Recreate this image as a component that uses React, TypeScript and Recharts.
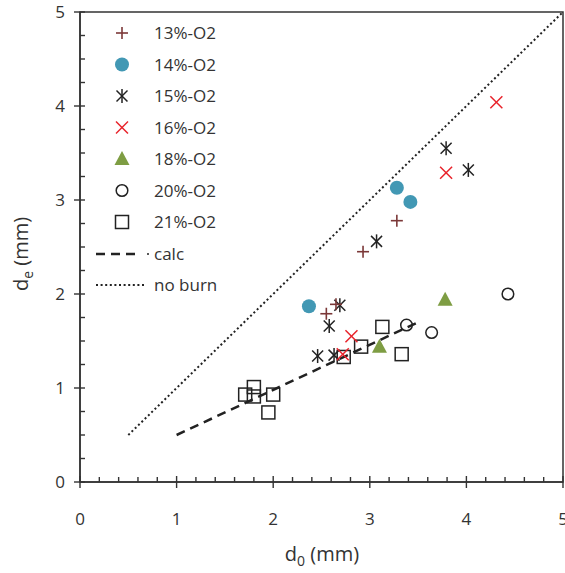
import React from 'react';
import { ScatterChart, Scatter, XAxis, YAxis, ReferenceArea } from 'recharts';

// d0 (mm), de (mm)
const o2_13 = [
  { x: 3.28, y: 2.78 },
  { x: 2.93, y: 2.45 },
  { x: 2.55, y: 1.79 },
  { x: 2.65, y: 1.89 },
];
const o2_14 = [
  { x: 3.28, y: 3.13 },
  { x: 3.42, y: 2.98 },
  { x: 2.37, y: 1.87 },
];
const o2_15 = [
  { x: 3.79, y: 3.55 },
  { x: 4.02, y: 3.32 },
  { x: 3.07, y: 2.56 },
  { x: 2.69, y: 1.88 },
  { x: 2.58, y: 1.66 },
  { x: 2.46, y: 1.34 },
  { x: 2.63, y: 1.35 },
];
const o2_16 = [
  { x: 4.31, y: 4.04 },
  { x: 3.79, y: 3.29 },
  { x: 2.81, y: 1.55 },
  { x: 2.72, y: 1.36 },
];
const o2_18 = [
  { x: 3.78, y: 1.94 },
  { x: 3.1, y: 1.44 },
];
const o2_20 = [
  { x: 3.38, y: 1.67 },
  { x: 3.64, y: 1.59 },
  { x: 4.43, y: 2.0 },
];
const o2_21 = [
  { x: 3.13, y: 1.65 },
  { x: 2.91, y: 1.44 },
  { x: 2.73, y: 1.33 },
  { x: 3.33, y: 1.36 },
  { x: 1.71, y: 0.93 },
  { x: 1.8, y: 1.01 },
  { x: 1.8, y: 0.91 },
  { x: 2.0, y: 0.93 },
  { x: 1.95, y: 0.74 },
];
const calc = [
  { x: 1.0, y: 0.5 },
  { x: 3.5, y: 1.7 },
];
const noBurn = [
  { x: 0.5, y: 0.5 },
  { x: 5, y: 5 },
];

const xTicks = [0, 0.2, 0.4, 0.6, 0.8, 1, 1.2, 1.4, 1.6, 1.8, 2, 2.2, 2.4, 2.6, 2.8, 3, 3.2, 3.4, 3.6, 3.8, 4, 4.2, 4.4, 4.6, 4.8, 5];
const yTicks = [0, 0.25, 0.5, 0.75, 1, 1.25, 1.5, 1.75, 2, 2.25, 2.5, 2.75, 3, 3.25, 3.5, 3.75, 4, 4.25, 4.5, 4.75, 5];

const FONT = '"Open Sans", sans-serif';
const AXIS = '#333';
const DOTTED = '2 2.6';

// markers
const Plus = ({ cx, cy }: any) => (
  <g stroke="#7b3838" strokeWidth={1.6}>
    <line x1={cx - 6} x2={cx + 6} y1={cy} y2={cy} />
    <line x1={cx} x2={cx} y1={cy - 6} y2={cy + 6} />
  </g>
);
const Dot = ({ cx, cy }: any) => <circle cx={cx} cy={cy} r={7} fill="#4298b4" />;
const Star = ({ cx, cy }: any) => (
  <g stroke="#222" strokeWidth={1.5}>
    <line x1={cx - 5.5} x2={cx + 5.5} y1={cy - 5.5} y2={cy + 5.5} />
    <line x1={cx - 5.5} x2={cx + 5.5} y1={cy + 5.5} y2={cy - 5.5} />
    <line x1={cx} x2={cx} y1={cy - 7} y2={cy + 7} />
  </g>
);
const Cross = ({ cx, cy }: any) => (
  <g stroke="#e8232b" strokeWidth={1.5}>
    <line x1={cx - 6} x2={cx + 6} y1={cy - 6} y2={cy + 6} />
    <line x1={cx - 6} x2={cx + 6} y1={cy + 6} y2={cy - 6} />
  </g>
);
const Tri = ({ cx, cy }: any) => (
  <polygon points={`${cx},${cy - 8} ${cx + 7.5},${cy + 6} ${cx - 7.5},${cy + 6}`} fill="#7e9d43" />
);
const Ring = ({ cx, cy }: any) => <circle cx={cx} cy={cy} r={5.8} fill="none" stroke="#222" strokeWidth={1.5} />;
const Square = ({ cx, cy }: any) => (
  <rect x={cx - 6.5} y={cy - 6.5} width={13} height={13} fill="none" stroke="#222" strokeWidth={1.5} />
);

const isMajor = (v: number) => Math.abs(v - Math.round(v)) < 1e-6;

const XTick = ({ x, y, payload }: any) => {
  const major = isMajor(payload.value);
  return (
    <g>
      <line x1={x} x2={x} y1={y - (major ? 6 : 5)} y2={y + (major ? 6 : 0)} stroke={AXIS} strokeWidth={1.4} />
      {major && (
        <text x={x} y={y + 43} textAnchor="middle" fontFamily={FONT} fontSize={17} fill="#333">
          {Math.round(payload.value)}
        </text>
      )}
    </g>
  );
};

const YTick = ({ x, y, payload }: any) => {
  const major = isMajor(payload.value);
  return (
    <g>
      <line x1={x - (major ? 6 : 0)} x2={x + 5} y1={y} y2={y} stroke={AXIS} strokeWidth={1.4} />
      {major && (
        <text x={x - 15} y={y + 6} textAnchor="end" fontFamily={FONT} fontSize={17} fill="#333">
          {Math.round(payload.value)}
        </text>
      )}
    </g>
  );
};

const legendRows = [
  { label: '13%-O2', Mark: Plus },
  { label: '14%-O2', Mark: Dot },
  { label: '15%-O2', Mark: Star },
  { label: '16%-O2', Mark: Cross },
  { label: '18%-O2', Mark: Tri },
  { label: '20%-O2', Mark: Ring },
  { label: '21%-O2', Mark: Square },
];

const Overlay = () => (
  <svg
    width={565}
    height={573}
    style={{ position: 'absolute', left: 0, top: 0, pointerEvents: 'none' }}
    fontFamily={FONT}
  >
    {legendRows.map(({ label, Mark }, i) => {
      const cy = 33 + i * 31.5;
      return (
        <g key={label}>
          <Mark cx={122} cy={cy} />
          <text x={154} y={cy + 6} fontSize={17} fill="#333">{label}</text>
        </g>
      );
    })}
    <line x1={96} x2={140} y1={254} y2={254} stroke="#222" strokeWidth={2.5} strokeDasharray="9 6" />
    <circle cx={148} cy={254} r={1} fill="#222" />
    <text x={154} y={260} fontSize={17} fill="#333">calc</text>
    <line x1={96} x2={146} y1={285} y2={285} stroke="#222" strokeWidth={2} strokeDasharray={DOTTED} />
    <text x={154} y={291} fontSize={17} fill="#333">no burn</text>

    <text x={322} y={561} textAnchor="middle" fontSize={20} fill="#333">
      d<tspan dy={5} fontSize={14}>0</tspan>
      <tspan dy={-5}> (mm)</tspan>
    </text>
    <text x={28} y={254} textAnchor="middle" fontSize={20} fill="#333" transform="rotate(-90 28 254)">
      d<tspan dy={5} fontSize={14}>e</tspan>
      <tspan dy={-5}> (mm)</tspan>
    </text>
  </svg>
);

export default function App() {
  return (
    <div style={{ position: 'absolute', left: 0, top: 0, width: 565, height: 573, background: '#fff' }}>
      <ScatterChart width={565} height={573} margin={{ top: 12, right: 2, bottom: 0, left: 0 }}>
        <XAxis
          type="number"
          dataKey="x"
          domain={[0, 5]}
          ticks={xTicks}
          interval={0}
          tickSize={0}
          tickMargin={0}
          tickLine={false}
          tick={<XTick />}
          height={91}
          axisLine={{ stroke: AXIS, strokeWidth: 1.5 }}
          allowDataOverflow
        />
        <YAxis
          type="number"
          dataKey="y"
          domain={[0, 5]}
          ticks={yTicks}
          interval={0}
          tickSize={0}
          tickMargin={0}
          tickLine={false}
          tick={<YTick />}
          width={80}
          axisLine={{ stroke: AXIS, strokeWidth: 1.5 }}
          allowDataOverflow
        />
        <ReferenceArea x1={0} x2={5} y1={0} y2={5} fill="none" stroke={AXIS} strokeWidth={1.5} fillOpacity={0} />
        <Scatter
          name="no burn"
          data={noBurn}
          line={{ stroke: '#222', strokeWidth: 2, strokeDasharray: DOTTED }}
          shape={() => <g />}
          isAnimationActive={false}
        />
        <Scatter
          name="calc"
          data={calc}
          line={{ stroke: '#222', strokeWidth: 2.5, strokeDasharray: '9 6' }}
          shape={() => <g />}
          isAnimationActive={false}
        />
        <Scatter name="21%-O2" data={o2_21} shape={(p: any) => <Square cx={p.cx} cy={p.cy} />} isAnimationActive={false} />
        <Scatter name="20%-O2" data={o2_20} shape={(p: any) => <Ring cx={p.cx} cy={p.cy} />} isAnimationActive={false} />
        <Scatter name="18%-O2" data={o2_18} shape={(p: any) => <Tri cx={p.cx} cy={p.cy} />} isAnimationActive={false} />
        <Scatter name="15%-O2" data={o2_15} shape={(p: any) => <Star cx={p.cx} cy={p.cy} />} isAnimationActive={false} />
        <Scatter name="16%-O2" data={o2_16} shape={(p: any) => <Cross cx={p.cx} cy={p.cy} />} isAnimationActive={false} />
        <Scatter name="14%-O2" data={o2_14} shape={(p: any) => <Dot cx={p.cx} cy={p.cy} />} isAnimationActive={false} />
        <Scatter name="13%-O2" data={o2_13} shape={(p: any) => <Plus cx={p.cx} cy={p.cy} />} isAnimationActive={false} />
      </ScatterChart>
      <Overlay />
    </div>
  );
}
